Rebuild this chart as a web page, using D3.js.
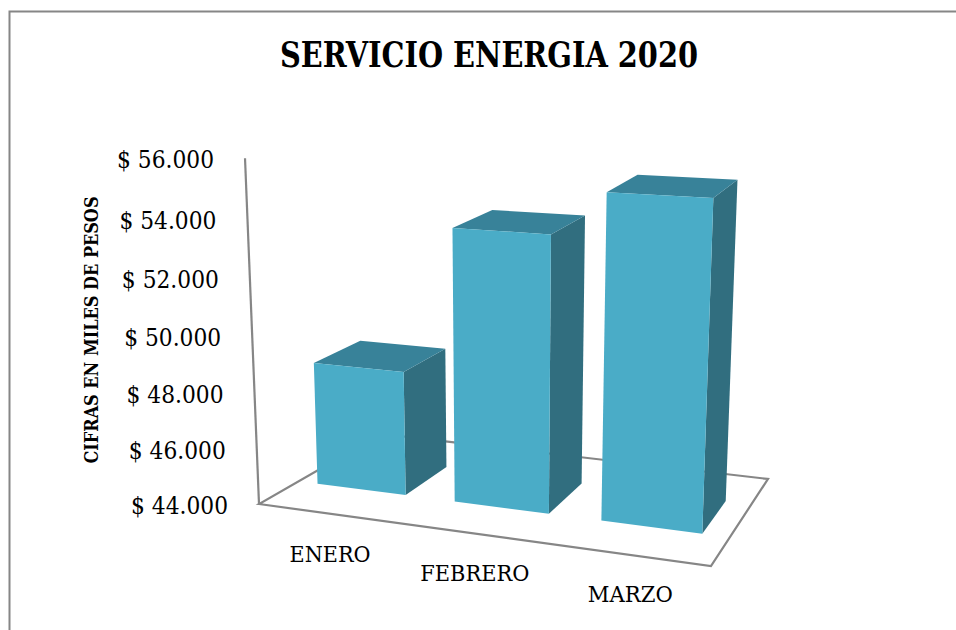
<!DOCTYPE html>
<html>
<head>
<meta charset="utf-8">
<script src="https://cdn.jsdelivr.net/npm/d3@7"></script>
<style>
html,body{margin:0;padding:0;background:#fff;}
svg{display:block;}
text{font-family:"DejaVu Serif",serif;fill:#000;}
</style>
</head>
<body>
<svg id="c" width="956" height="630"></svg>
<script>
const titleText = "SERVICIO ENERGIA 2020";
const yAxisTitle = "CIFRAS EN MILES DE PESOS";
const categories = ["ENERO", "FEBRERO", "MARZO"];
const values = [48450, 53560, 55030];
const tickValues = [44000, 46000, 48000, 50000, 52000, 54000, 56000];
const tickLabels = ["$ 44.000", "$ 46.000", "$ 48.000", "$ 50.000", "$ 52.000", "$ 54.000", "$ 56.000"];

const W = 956, H = 630;
const svg = d3.select("#c");

// Perspective camera: floor homography on the unit square, vertical vanishing point.
const cam = {a:380.3,b:191.7,c:259,d:4.95,e:9.3,f:504,g:-0.1008,h:0.1828,vx:504,vy:6560,lambda:-0.055,hc:1.0182,hv:0.12};
function project(u, v, k) {
  const w = cam.g*u + cam.h*v + 1;
  const fx = (cam.a*u + cam.b*v + cam.c)/w;
  const fy = (cam.d*u + cam.e*v + cam.f)/w;
  const wh = cam.hc + cam.g*u + cam.hv*v;
  const s = 1/(1 + k*cam.lambda/wh);
  return [cam.vx + (fx-cam.vx)*s, cam.vy + (fy-cam.vy)*s];
}

const yScale = d3.scaleLinear().domain([44000, 56000]).range([0, 1]);
const xScale = d3.scaleBand().domain(categories).range([-0.005, 0.995]).paddingInner(0.35).paddingOuter(0.157);
const depth = d3.scaleLinear().domain([0, 1]).range([0.29, 0.67]);
const line = d3.line();
const closed = pts => line(pts) + "Z";

const FRAME = "#868686";
svg.append("path").attr("d", line([[9.5,H],[9.5,11.5],[W,11.5]]))
  .attr("fill","none").attr("stroke",FRAME).attr("stroke-width",2);

// floor
svg.append("path").attr("d", closed([project(0,0,0),project(1,0,0),project(1,1,0),project(0,1,0)]))
  .attr("fill","none").attr("stroke",FRAME).attr("stroke-width",2.2);
// vertical axis
svg.append("path").attr("d", line([project(0,0,yScale(44000)),project(0,0,yScale(56000))]))
  .attr("fill","none").attr("stroke",FRAME).attr("stroke-width",2.2);

// bars
const bars = svg.selectAll("g.bar").data(categories.map((c,i)=>({c,v:values[i]}))).join("g").attr("class","bar");
bars.each(function(d){
  const g = d3.select(this);
  const u0 = xScale(d.c), u1 = u0 + xScale.bandwidth();
  const v0 = depth(0), v1 = depth(1), k = yScale(d.v);
  g.append("path").attr("d", closed([project(u1,v0,0),project(u1,v1,0),project(u1,v1,k),project(u1,v0,k)])).attr("fill","#316e7f");
  g.append("path").attr("d", closed([project(u0,v0,k),project(u1,v0,k),project(u1,v1,k),project(u0,v1,k)])).attr("fill","#388299");
  g.append("path").attr("d", closed([project(u0,v0,0),project(u1,v0,0),project(u1,v0,k),project(u0,v0,k)])).attr("fill","#4aacc7");
});

// tick labels
tickValues.forEach((t,i)=>{
  const p = project(0,0,yScale(t));
  svg.append("text").attr("x",p[0]-31).attr("y",p[1]+10).attr("text-anchor","end")
    .attr("font-size",24).attr("textLength",97).attr("lengthAdjust","spacingAndGlyphs").text(tickLabels[i]);
});

// category labels
const catWidths = [81, 109, 85];
categories.forEach((c,i)=>{
  const p = project(xScale(c)+xScale.bandwidth()/2,0,0);
  svg.append("text").attr("x",p[0]+6-(p[0]-321)*0.013).attr("y",p[1]+49-(p[0]-321)*0.0066).attr("text-anchor","middle")
    .attr("font-size",23).attr("textLength",catWidths[i]).attr("lengthAdjust","spacingAndGlyphs").text(c);
});

svg.append("text").attr("x",489).attr("y",67).attr("text-anchor","middle")
  .attr("font-size",36).attr("font-weight","bold").attr("textLength",418).attr("lengthAdjust","spacingAndGlyphs").text(titleText);
svg.append("text").attr("transform","translate(98,330) rotate(-90)").attr("text-anchor","middle")
  .attr("font-size",18).attr("font-weight","bold").attr("textLength",267).attr("lengthAdjust","spacingAndGlyphs").text(yAxisTitle);
</script>
</body>
</html>
